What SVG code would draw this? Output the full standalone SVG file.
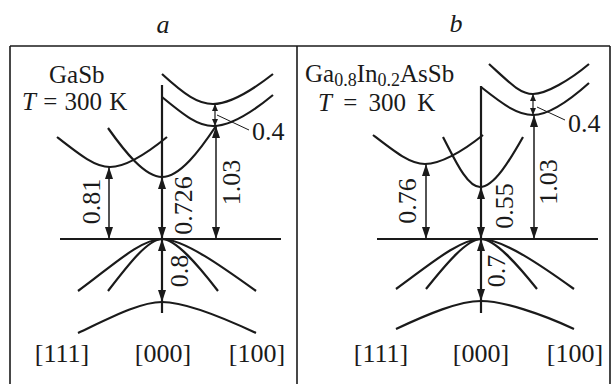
<svg xmlns="http://www.w3.org/2000/svg" width="611" height="384" viewBox="0 0 611 384">
<defs>
<style>
text{font-family:"Liberation Serif","DejaVu Serif","Times New Roman",serif;font-size:26px;fill:#1a1a1a}
.it{font-style:italic}
.hd{font-size:25px}
.band{fill:none;stroke:#1a1a1a;stroke-width:2.2}
.ax{fill:none;stroke:#1a1a1a;stroke-width:2.2}
.frame{fill:none;stroke:#1a1a1a;stroke-width:1.6}
.arr{fill:none;stroke:#1a1a1a;stroke-width:1.5;marker-start:url(#ah);marker-end:url(#ah)}
.arrs{fill:none;stroke:#1a1a1a;stroke-width:1.2;marker-start:url(#ahs);marker-end:url(#ahs)}
.lead{fill:none;stroke:#1a1a1a;stroke-width:1}
.sub{font-size:18px}
</style>
<marker id="ah" markerUnits="userSpaceOnUse" markerWidth="12" markerHeight="8" refX="12" refY="4" orient="auto-start-reverse"><path d="M0,0 L12,4 L0,8 z" fill="#1a1a1a"/></marker>
<marker id="ahs" markerUnits="userSpaceOnUse" markerWidth="7" markerHeight="6" refX="7" refY="3" orient="auto-start-reverse"><path d="M0,0 L7,3 L0,6 z" fill="#1a1a1a"/></marker>
</defs>

<g id="frame">
<line class="frame" x1="10" y1="46" x2="610" y2="46"/>
<line class="frame" x1="10" y1="46" x2="10" y2="384"/>
<line class="frame" x1="610" y1="46" x2="610" y2="384"/>
<line class="frame" x1="297" y1="46" x2="297" y2="384"/>
</g>

<text id="title-a" class="it" x="163" y="33" text-anchor="middle">a</text>
<text id="title-b" class="it" x="456" y="32" text-anchor="middle">b</text>

<g id="panel-a">
<text class="hd" x="49" y="83">GaSb</text>
<text class="hd" x="22" y="110" word-spacing="1"><tspan class="it">T</tspan> = 300 K</text>
<g id="bands-a">
<path class="band" d="M162,74 C185,95 198,104 213,104 S250,92 273,74"/>
<path class="band" d="M162,97 C185,116 198,126 213,126 S250,114 273,95"/>
<path class="band" d="M57,137 C80,155 95,167 110,167 S145,155 167,137"/>
<path class="band" d="M108,128 C125,152 145,177 162,177 C180,177 200,150 216,126"/>
<path class="band" d="M78,291 C110,268 140,239 162,239 C184,239 224,268 256,291"/>
<path class="band" d="M108,291 C128,265 148,239 162,239 C176,239 198,265 218,291"/>
<path class="band" d="M78,333 C110,318 140,302 162,302 C184,302 224,318 256,333"/>
</g>
<g id="axes-a">
<line class="ax" x1="60" y1="239" x2="281" y2="239"/>
<line class="ax" x1="162" y1="85" x2="162" y2="313"/>
</g>
<g id="arrows-a">
<line class="arr" x1="109" y1="167" x2="109" y2="239"/>
<line class="arr" x1="162" y1="177" x2="162" y2="239"/>
<line class="arr" x1="216" y1="126" x2="216" y2="239"/>
<line class="arr" x1="162" y1="239" x2="162" y2="302"/>
<line class="arrs" x1="215" y1="104" x2="215" y2="126"/>
<line class="lead" x1="217" y1="115" x2="249" y2="130"/>
</g>
<text x="252" y="140">0.4</text>
<text transform="translate(100,201.5) rotate(-90)" text-anchor="middle">0.81</text>
<text transform="translate(192,205.5) rotate(-90)" text-anchor="middle">0.726</text>
<text transform="translate(240,182.5) rotate(-90)" text-anchor="middle">1.03</text>
<text transform="translate(188,271) rotate(-90)" text-anchor="middle">0.8</text>
<text x="62" y="362" text-anchor="middle">[111]</text>
<text x="163" y="362" text-anchor="middle">[000]</text>
<text x="257" y="362" text-anchor="middle">[100]</text>
</g>

<g id="panel-b">
<text class="hd" x="305" y="82">Ga<tspan class="sub" baseline-shift="-4">0.8</tspan>In<tspan class="sub" baseline-shift="-4">0.2</tspan>AsSb</text>
<text class="hd" x="318" y="111" word-spacing="5"><tspan class="it">T</tspan> = 300 K</text>
<g id="bands-b">
<path class="band" d="M489,64 C510,83 520,94 533,94 S570,80 589,64"/>
<path class="band" d="M481,87 C505,106 518,115 533,115 S570,100 589,83"/>
<path class="band" d="M373,135 C395,152 410,164 425,164 S462,152 483,135"/>
<path class="band" d="M443,137 C455,160 467,187 480,187 C494,187 510,160 523,137"/>
<path class="band" d="M396,289 C428,266 459,239 481,239 C503,239 542,266 574,289"/>
<path class="band" d="M426,289 C446,264 467,239 481,239 C495,239 517,264 537,289"/>
<path class="band" d="M396,329 C428,314 459,301 481,301 C503,301 542,314 574,329"/>
</g>
<g id="axes-b">
<line class="ax" x1="377" y1="239" x2="598" y2="239"/>
<line class="ax" x1="481" y1="86" x2="481" y2="313"/>
</g>
<g id="arrows-b">
<line class="arr" x1="426" y1="164" x2="426" y2="239"/>
<line class="arr" x1="481" y1="187" x2="481" y2="239"/>
<line class="arr" x1="534" y1="115" x2="534" y2="239"/>
<line class="arr" x1="481" y1="239" x2="481" y2="301"/>
<line class="arrs" x1="533" y1="94" x2="533" y2="115"/>
<line class="lead" x1="537" y1="107" x2="565" y2="120"/>
</g>
<text x="568" y="132">0.4</text>
<text transform="translate(416,201) rotate(-90)" text-anchor="middle">0.76</text>
<text transform="translate(513,206) rotate(-90)" text-anchor="middle">0.55</text>
<text transform="translate(557,182) rotate(-90)" text-anchor="middle">1.03</text>
<text transform="translate(505,271) rotate(-90)" text-anchor="middle">0.7</text>
<text x="381" y="362" text-anchor="middle">[111]</text>
<text x="481" y="362" text-anchor="middle">[000]</text>
<text x="575" y="362" text-anchor="middle">[100]</text>
</g>
</svg>
